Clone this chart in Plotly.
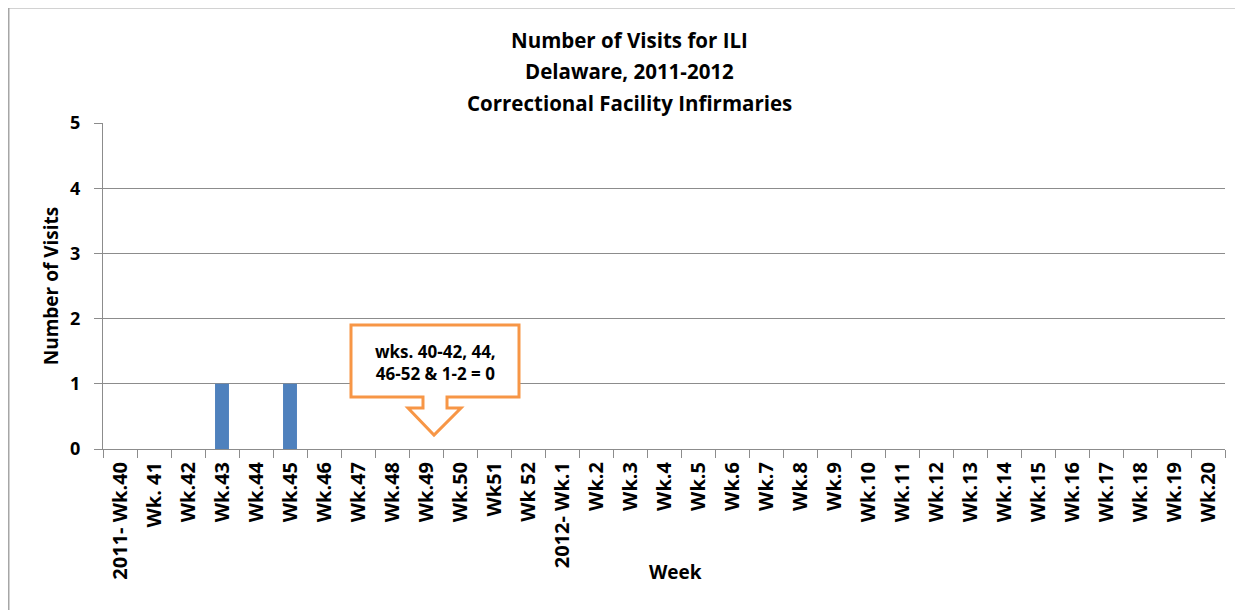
import plotly.graph_objects as go

weeks = ["2011- Wk.40", "Wk. 41", "Wk.42", "Wk.43", "Wk.44", "Wk.45", "Wk.46", "Wk.47",
         "Wk.48", "Wk.49", "Wk.50", "Wk51", "Wk 52", "2012- Wk.1", "Wk.2", "Wk.3", "Wk.4",
         "Wk.5", "Wk.6", "Wk.7", "Wk.8", "Wk.9", "Wk.10", "Wk.11", "Wk.12", "Wk.13", "Wk.14",
         "Wk.15", "Wk.16", "Wk.17", "Wk.18", "Wk.19", "Wk.20"]
visits = [0, 0, 0, 1, 0, 1, 0, 0, 0, 0, 0, 0, 0, 0, 0, None, None, None, None, None, None,
          None, None, None, None, None, None, None, None, None, None, None, None]

title_lines = ["Number of Visits for ILI", "Delaware, 2011-2012", "Correctional Facility Infirmaries"]
x_title = "Week"
y_title = "Number of Visits"
callout_text = "wks. 40-42, 44,<br>46-52 & 1-2 = 0"

FONT = "Open Sans"
OFF = 8  # page body margin
W, H = 1235, 602
# plot area in page coordinates: left 103, right 1225, top 123, bottom 449
L = 103 - OFF
T = 123 - OFF
R = W - (1225 - OFF)
B = H - (449 - OFF)
PW, PH = W - L - R, H - T - B


def px(x):  # page x -> paper
    return (x - OFF - L) / PW


def py(y):  # page y -> paper
    return (H - B - (y - OFF)) / PH


fig = go.Figure()
fig.add_trace(go.Bar(x=weeks, y=visits, marker=dict(color="#4F81BD", line=dict(width=0)),
                     width=0.41, hoverinfo="x+y"))

grey = "#8c8c8c"
fig.update_layout(
    width=W, height=H,
    margin=dict(l=L, r=R, t=T, b=B, autoexpand=False),
    paper_bgcolor="white", plot_bgcolor="white",
    showlegend=False,
    font=dict(family=FONT, color="black"),
    xaxis=dict(type="category", tickangle=-90, tickson="boundaries", ticks="outside",
               ticklen=8, tickcolor=grey, showline=True, linecolor=grey, linewidth=1,
               showgrid=False, ticklabelstandoff=4,
               tickfont=dict(size=20, family=FONT, weight="bold")),
    yaxis=dict(range=[0, 5], dtick=1, ticks="outside", ticklen=8, tickcolor=grey,
               showline=True, linecolor=grey, linewidth=1, gridcolor=grey, gridwidth=1,
               zeroline=False, ticklabelstandoff=10,
               tickfont=dict(size=18, family=FONT, weight="bold"),
               title=dict(text="<b>" + y_title + "</b>", font=dict(size=19), standoff=6)),
)

# Title lines
for i, line in enumerate(title_lines):
    fig.add_annotation(text="<b>" + line + "</b>", xref="paper", yref="paper",
                       x=px(629), y=py(40 + 31.5 * i), showarrow=False,
                       xanchor="center", yanchor="middle",
                       font=dict(size=20.5, family=FONT, color="black"))

# X axis title
fig.add_annotation(text="<b>" + x_title + "</b>", xref="paper", yref="paper",
                   x=px(675), y=py(572), showarrow=False, xanchor="center", yanchor="middle",
                   font=dict(size=19, family=FONT, color="black"))

# Outer chart border
fig.add_shape(type="rect", xref="paper", yref="paper",
              x0=px(8.75), y0=py(7.75), x1=px(1270), y1=py(640),
              line=dict(color="#a6a6a6", width=1.5), fillcolor="rgba(0,0,0,0)", layer="below")

# Callout shape (page coordinates)
pts = [(351, 325), (519, 325), (519, 397), (447, 397), (447, 408), (461, 408), (434, 435),
       (408, 408), (423, 408), (423, 397), (351, 397)]
path = "M " + " L ".join(f"{px(a):.5f},{py(b):.5f}" for a, b in pts) + " Z"
fig.add_shape(type="path", xref="paper", yref="paper", path=path,
              line=dict(color="#F79646", width=3), fillcolor="white", layer="above")
fig.add_annotation(text="<b>" + callout_text + "</b>", xref="paper", yref="paper",
                   x=px(435), y=py(362), showarrow=False, xanchor="center", yanchor="middle",
                   font=dict(size=17, family=FONT, color="black"))

fig.write_html("out.html")
